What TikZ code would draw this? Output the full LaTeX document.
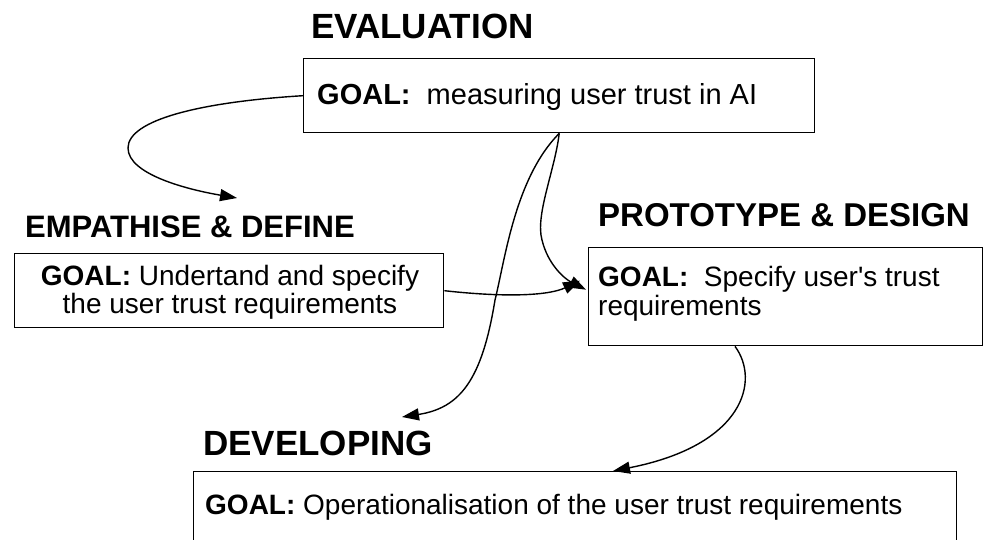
\documentclass[tikz,border=0pt]{standalone}
\usepackage{fontspec}
\setmainfont{Liberation Sans}[Ligatures=TeXOff]
\usetikzlibrary{arrows.meta}
\begin{document}
\begin{tikzpicture}[x=1pt,y=-1pt,
  box/.style={draw, line width=1.4pt, inner sep=0pt, anchor=north west},
  conn/.style={line width=1.4pt, -{Triangle[length=17pt,width=12pt]}},
  ttl/.style={anchor=base west, inner sep=0pt, font=\bfseries\fontsize{#1}{#1}\selectfont},
  body/.style={anchor=base west, inner sep=0pt, font=\fontsize{#1}{#1}\selectfont},
  bodyc/.style={anchor=base, inner sep=0pt, font=\fontsize{#1}{#1}\selectfont},
]
\useasboundingbox[fill=white] (0,0) rectangle (988,540);

% titles
\node[ttl=35] (evaltitle) at (311,39) {EVALUATION};
\node[ttl=31] (emptitle) at (25,237) {EMPATHISE \& DEFINE};
\node[ttl=33] (prototitle) at (598,227) {PROTOTYPE \& DESIGN};
\node[ttl=35] (devtitle) at (203,455) {DEVELOPING};

% boxes
\node[box, minimum width=511pt, minimum height=74pt] (evalbox) at (303,58) {};
\node[box, minimum width=429pt, minimum height=74pt] (empbox) at (14,253) {};
\node[box, minimum width=394pt, minimum height=98pt] (protobox) at (588,247) {};
\begin{scope}
  \clip (0,0) rectangle (988,540);
  \node[box, minimum width=763pt, minimum height=120pt] (devbox) at (193,471) {};
\end{scope}

% box texts
\node[body=29] (evaltext) at (317,105) {\textbf{GOAL:}\ \ measuring user trust in AI};
\node[bodyc=28] (emptext1) at (230,285) {\textbf{GOAL:} Undertand and specify};
\node[bodyc=28] (emptext2) at (230,313) {the user trust requirements};
\node[body=28] (prototext1) at (598,287) {\textbf{GOAL:}\ \ Specify user's trust};
\node[body=28] (prototext2) at (598,315) {requirements};
\node[body=28] (devtext) at (205,514) {\textbf{GOAL:} Operationalisation of the user trust requirements};

% free ends
\coordinate (empin) at (237,198);
\coordinate (devin) at (402,417);

% connectors
\draw[conn] (evalbox.west) .. controls (200,102) and (128,120) .. (128,148)
  .. controls (128,175) and (190,190) .. (empin);
\draw[conn] (evalbox.south) .. controls (515,178) and (505,260) .. (495,300)
  .. controls (482,380) and (460,408) .. (devin);
\draw[conn] (evalbox.south) .. controls (555,170) and (535,215) .. (542,240)
  .. controls (548,265) and (565,279) .. ([xshift=-2pt,yshift=7pt]protobox.west);
\draw[conn] (empbox.east) .. controls (510,298) and (550,295) .. ([xshift=-8pt,yshift=16pt]protobox.west);
\draw[conn] ([xshift=147pt]protobox.south west) .. controls (760,380) and (745,445) .. ([xshift=420pt]devbox.north west);
\end{tikzpicture}
\end{document}
